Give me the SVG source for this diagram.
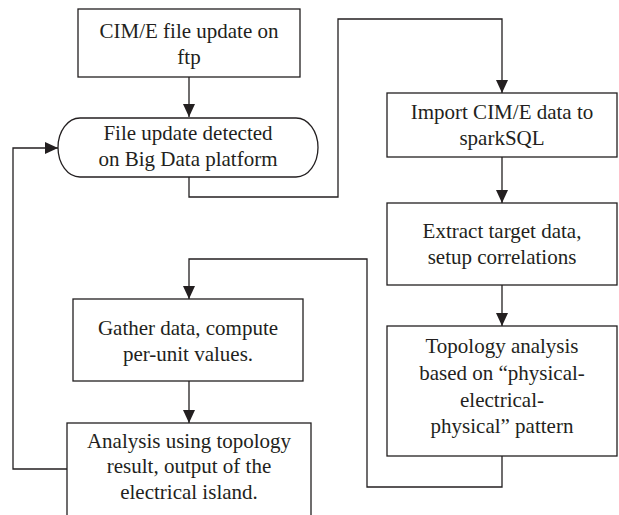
<svg xmlns="http://www.w3.org/2000/svg" width="619" height="515" viewBox="0 0 619 515">
  <style>
    .box { fill: #ffffff; stroke: #231f20; stroke-width: 1.3; }
    .wire { fill: none; stroke: #231f20; stroke-width: 1.3; }
    .label { font-family: "Liberation Serif", "Times New Roman", serif; font-size: 21px; fill: #231f20; text-anchor: middle; }
  </style>
  <defs>
    <marker id="arrow" markerUnits="userSpaceOnUse" markerWidth="13" markerHeight="12" refX="13" refY="6" orient="auto">
      <path d="M0,0 L13,6 L0,12 z" fill="#231f20"/>
    </marker>
  </defs>
  <rect width="619" height="515" fill="#ffffff"/>

  <g id="connectors">
    <path class="wire" d="M189,77 V117" marker-end="url(#arrow)"/>
    <path class="wire" d="M189,177 V197 H338 V19 H502 V93" marker-end="url(#arrow)"/>
    <path class="wire" d="M502,157 V203" marker-end="url(#arrow)"/>
    <path class="wire" d="M502,285 V326" marker-end="url(#arrow)"/>
    <path class="wire" d="M502,456 V487 H367 V259 H189 V299" marker-end="url(#arrow)"/>
    <path class="wire" d="M189,381 V423" marker-end="url(#arrow)"/>
    <path class="wire" d="M67,469 H13 V148 H58" marker-end="url(#arrow)"/>
  </g>

  <g id="ftp-update">
    <rect class="box" x="78" y="9" width="222" height="68"/>
    <text class="label" x="189" y="38">CIM/E file update on</text>
    <text class="label" x="189" y="64">ftp</text>
  </g>

  <g id="update-detected">
    <rect class="box" x="58" y="118" width="260" height="59" rx="22" ry="29.5"/>
    <text class="label" x="188" y="140">File update detected</text>
    <text class="label" x="188" y="166">on Big Data platform</text>
  </g>

  <g id="import-sparksql">
    <rect class="box" x="387" y="93" width="230" height="64"/>
    <text class="label" x="502" y="119">Import CIM/E data to</text>
    <text class="label" x="502" y="145">sparkSQL</text>
  </g>

  <g id="extract-target">
    <rect class="box" x="387" y="203" width="230" height="82"/>
    <text class="label" x="502" y="238">Extract target data,</text>
    <text class="label" x="502" y="264">setup correlations</text>
  </g>

  <g id="topology-analysis">
    <rect class="box" x="387" y="326" width="230" height="130"/>
    <text class="label" x="502" y="353">Topology analysis</text>
    <text class="label" x="502" y="380">based on “physical-</text>
    <text class="label" x="502" y="407">electrical-</text>
    <text class="label" x="502" y="433">physical” pattern</text>
  </g>

  <g id="gather-data">
    <rect class="box" x="73" y="299" width="230" height="82"/>
    <text class="label" x="188" y="335">Gather data, compute</text>
    <text class="label" x="188" y="361">per-unit values.</text>
  </g>

  <g id="island-output">
    <rect class="box" x="67" y="423" width="244" height="100"/>
    <text class="label" x="189" y="448">Analysis using topology</text>
    <text class="label" x="189" y="473">result, output of the</text>
    <text class="label" x="189" y="499">electrical island.</text>
  </g>
</svg>
